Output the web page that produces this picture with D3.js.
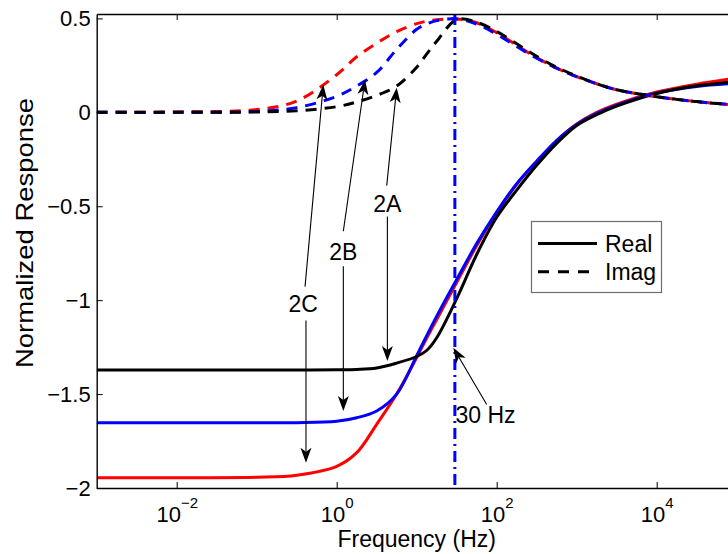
<!DOCTYPE html>
<html><head><meta charset="utf-8">
<script src="https://cdn.jsdelivr.net/npm/d3@7"></script>
<style>
body{margin:0;background:#fff}
svg{display:block}
text{font-family:"Liberation Sans",Arial,Helvetica,sans-serif;fill:#000}
</style>
</head><body>
<svg id="chart" width="728" height="554"></svg>
<script>
// ---------- data ----------
const freqHz = [0.001, 0.01, 0.1, 0.316, 1, 1.78, 3.16, 5.62, 10, 13.3, 17.8, 31.6, 56.2, 100, 178, 316, 562, 1000, 1780, 3160, 10000, 31600, 100000];
// Real parts (solid)
const realA = [-1.372,-1.372,-1.372,-1.372,-1.371,-1.369,-1.361,-1.335,-1.300,-1.268,-1.200,-0.992,-0.757,-0.559,-0.414,-0.282,-0.165,-0.070,-0.012,0.033,0.100,0.141,0.165];
const realB = [-1.652,-1.652,-1.652,-1.652,-1.645,-1.626,-1.590,-1.500,-1.295,-1.190,-1.085,-0.890,-0.699,-0.530,-0.380,-0.260,-0.150,-0.065,-0.006,0.038,0.103,0.138,0.155];
const realC = [-1.945,-1.945,-1.943,-1.932,-1.885,-1.812,-1.661,-1.500,-1.305,-1.203,-1.103,-0.906,-0.710,-0.535,-0.383,-0.262,-0.150,-0.062,0.000,0.044,0.108,0.150,0.182];
// Imaginary parts (dashed)
const imagA = [0.000,0.000,0.002,0.008,0.030,0.055,0.090,0.140,0.240,0.310,0.378,0.494,0.480,0.430,0.365,0.298,0.240,0.193,0.152,0.120,0.083,0.057,0.038];
const imagB = [0.000,0.000,0.005,0.025,0.085,0.140,0.212,0.335,0.442,0.470,0.488,0.497,0.470,0.415,0.350,0.288,0.235,0.190,0.152,0.120,0.083,0.057,0.038];
const imagC = [0.000,0.002,0.015,0.060,0.200,0.296,0.368,0.430,0.472,0.485,0.493,0.497,0.477,0.424,0.357,0.291,0.235,0.190,0.152,0.120,0.083,0.057,0.038];
const seriesColors = ["#ff0000", "#0000ff", "#000000"]; // 2C, 2B, 2A
const xTickValues = [1e-2, 1, 1e2, 1e4];
const xTickExponents = ["\u22122", "0", "2", "4"];
const yTickValues = [-2, -1.5, -1, -0.5, 0, 0.5];
const yTickLabels = ["\u22122", "\u22121.5", "\u22121", "\u22120.5", "0", "0.5"];
const markerFreqHz = 30;
const legendNames = ["Real", "Imag"];
// annotations: label text + anchor (Hz, value)
const annoLabels = ["2A", "2B", "2C", "30 Hz"];
const annoLabelF = [4.3, 1.21, 0.38, 30.5];
const annoLabelV = [-0.486, -0.746, -1.018, -1.613];
// arrows: tail -> tip, in (Hz, value)
const arrowTailF = [4.22, 4.3, 1.21, 1.21, 0.402, 0.413, 75];
const arrowTailV = [-0.39, -0.555, -0.633, -0.819, -0.928, -1.108, -1.555];
const arrowTipF  = [5.62, 4.3, 2.26, 1.21, 0.68, 0.413, 28.7];
const arrowTipV  = [0.131, -1.324, 0.174, -1.59, 0.147, -1.865, -1.253];

// ---------- layout ----------
const svg = d3.select("#chart");
const L = 96.7, R = 736.7, T = 14, B = 488;
const x = d3.scaleLog().domain([1e-3, 1e5]).range([L, R]);
const y = d3.scaleLinear().domain([-2, 0.5234]).range([B, T]);

svg.append("defs").append("clipPath").attr("id", "clip")
  .append("rect").attr("x", L).attr("y", T).attr("width", R - L).attr("height", B - T);

const plot = svg.append("g").attr("clip-path", "url(#clip)");
const line = d3.line().x(d => x(d[0])).y(d => y(d[1])).curve(d3.curveCatmullRom.alpha(0.5));
const zipF = arr => freqHz.map((f, i) => [f, arr[i]]);

const reals = [realC, realB, realA];
const imags = [imagC, imagB, imagA];

reals.forEach((s, i) => {
  plot.append("path").attr("d", line(zipF(s))).attr("fill", "none")
    .attr("stroke", seriesColors[i]).attr("stroke-width", 3);
});
imags.forEach((s, i) => {
  plot.append("path").attr("d", line(zipF(s))).attr("fill", "none")
    .attr("stroke", seriesColors[i]).attr("stroke-width", 3)
    .attr("stroke-dasharray", "11,8");
});

// vertical 30 Hz marker
plot.append("line")
  .attr("x1", x(markerFreqHz)).attr("x2", x(markerFreqHz))
  .attr("y1", T).attr("y2", B)
  .attr("stroke", "#0000ff").attr("stroke-width", 3)
  .attr("stroke-dasharray", "11,5,2,5");

// ---------- axes ----------
const gB = svg.append("g").attr("transform", `translate(0,${B})`)
  .call(d3.axisBottom(x).tickValues(xTickValues).tickSizeInner(-6).tickSizeOuter(0).tickFormat(""));
const gT = svg.append("g").attr("transform", `translate(0,${T})`)
  .call(d3.axisTop(x).tickValues(xTickValues).tickSizeInner(-6).tickSizeOuter(0).tickFormat(""));
const gL = svg.append("g").attr("transform", `translate(${L},0)`)
  .call(d3.axisLeft(y).tickValues(yTickValues).tickSizeInner(-6).tickSizeOuter(0).tickPadding(6)
    .tickFormat((d, i) => yTickLabels[i]));
const gR = svg.append("g").attr("transform", `translate(${R},0)`)
  .call(d3.axisRight(y).tickValues(yTickValues).tickSizeInner(-6).tickSizeOuter(0).tickFormat(""));

[gB, gT, gL, gR].forEach(g => {
  g.attr("font-family", null).attr("font-size", null);
  g.select(".domain").attr("stroke", "#000").attr("stroke-width", 1.4);
  g.selectAll(".tick line").attr("stroke", "#000").attr("stroke-width", 1);
});
gT.selectAll(".tick text").remove();
gR.selectAll(".tick text").remove();
gL.selectAll(".tick text").attr("font-size", 22);

gB.selectAll(".tick text").each(function(d, i) {
  const t = d3.select(this).attr("y", 33.7).attr("dy", 0).attr("font-size", 22).attr("text-anchor", "middle");
  t.text(null);
  t.append("tspan").text("10");
  t.append("tspan").attr("font-size", 15).attr("dy", -14).text(xTickExponents[i]);
});

// axis titles
svg.append("text").attr("x", (L + R) / 2).attr("y", 547).attr("text-anchor", "middle")
  .attr("font-size", 23).text("Frequency (Hz)");
svg.append("text").attr("transform", `translate(33,233) rotate(-90)`)
  .attr("text-anchor", "middle").attr("font-size", 24)
  .attr("textLength", 270).attr("lengthAdjust", "spacingAndGlyphs")
  .text("Normalized Response");

// ---------- annotations ----------
const ann = svg.append("g");
annoLabels.forEach((lab, i) => {
  ann.append("text").attr("x", x(annoLabelF[i])).attr("y", y(annoLabelV[i]))
    .attr("text-anchor", i === 3 ? "start" : "middle").attr("dominant-baseline", "central")
    .attr("font-size", 23).text(lab);
});
arrowTailF.forEach((f, i) => {
  const x1 = x(f), y1 = y(arrowTailV[i]), x2 = x(arrowTipF[i]), y2 = y(arrowTipV[i]);
  const a = Math.atan2(y2 - y1, x2 - x1);
  const len = 15, hw = 5.5, notch = 4;
  ann.append("line").attr("x1", x1).attr("y1", y1)
    .attr("x2", x2 - Math.cos(a) * (len - notch)).attr("y2", y2 - Math.sin(a) * (len - notch))
    .attr("stroke", "#000").attr("stroke-width", 1.1);
  const pts = [[0, 0], [-len, -hw], [-len + notch, 0], [-len, hw]]
    .map(([u, v]) => [x2 + u * Math.cos(a) - v * Math.sin(a), y2 + u * Math.sin(a) + v * Math.cos(a)]);
  ann.append("path").attr("d", "M" + pts.map(p => p.join(",")).join("L") + "Z").attr("fill", "#000");
});

// ---------- legend ----------
const lg = svg.append("g");
lg.append("rect").attr("x", 531.5).attr("y", 221.5).attr("width", 130).attr("height", 71)
  .attr("fill", "#fff").attr("stroke", "#6e6e6e").attr("stroke-width", 1.2);
legendNames.forEach((n, i) => {
  const ly = 243.5 + i * 28.3;
  lg.append("line").attr("x1", 538).attr("x2", 597).attr("y1", ly).attr("y2", ly)
    .attr("stroke", "#000").attr("stroke-width", 3)
    .attr("stroke-dasharray", i === 1 ? "11,9" : null);
  lg.append("text").attr("x", 605).attr("y", ly).attr("dominant-baseline", "central")
    .attr("font-size", 23).text(n);
});
</script>
</body></html>
